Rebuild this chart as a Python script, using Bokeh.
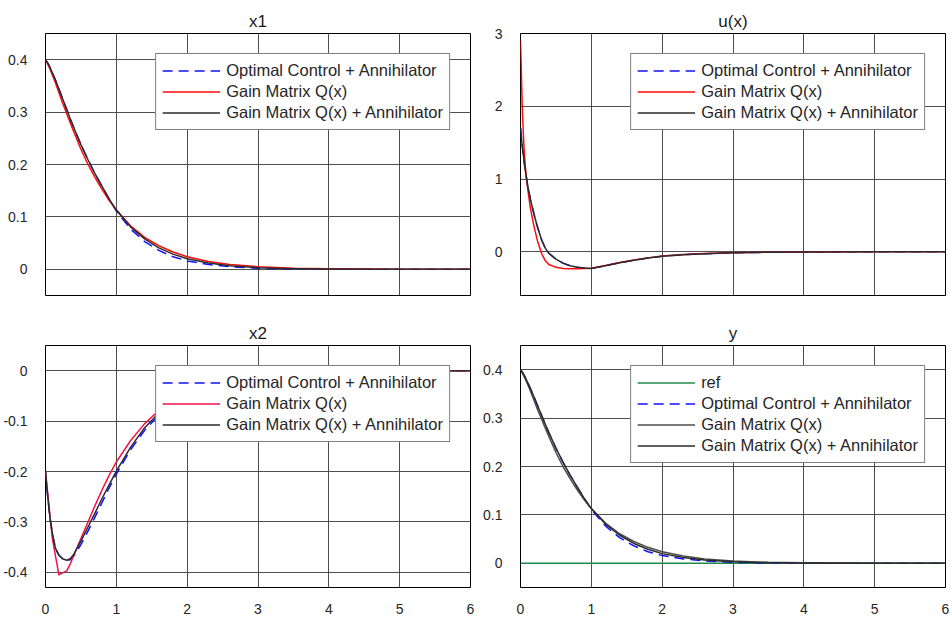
from bokeh.plotting import figure
from bokeh.models import FixedTicker, Legend, LegendItem, ColumnDataSource, Range1d
from bokeh.layouts import column, row
from bokeh.embed import file_html
from bokeh.resources import INLINE

# Simulation time samples (s)
t = [0, 0.01, 0.02, 0.03, 0.05, 0.07, 0.1, 0.14, 0.19, 0.24, 0.3, 0.35, 0.4, 0.5,
     0.6, 0.7, 0.8, 0.9, 1.0, 1.2, 1.4, 1.6, 1.8, 2.0, 2.3, 2.6, 3.0, 3.5, 4.0, 5.0, 6.0]

# State x1
x1_opt = [0.400, 0.398, 0.396, 0.394, 0.389, 0.383, 0.374, 0.361, 0.344, 0.326, 0.305, 0.287,
          0.270, 0.238, 0.209, 0.182, 0.158, 0.134, 0.111, 0.077, 0.053, 0.036, 0.024, 0.016,
          0.009, 0.005, 0.002, 0.0006, 0.0002, 0.0, 0.0]
x1_q = [0.400, 0.398, 0.395, 0.392, 0.386, 0.380, 0.370, 0.356, 0.337, 0.318, 0.297, 0.279,
        0.262, 0.229, 0.200, 0.175, 0.152, 0.131, 0.113, 0.083, 0.061, 0.045, 0.033, 0.024,
        0.015, 0.009, 0.005, 0.002, 0.001, 0.0002, 0.0]
x1_qa = [0.400, 0.398, 0.396, 0.394, 0.389, 0.383, 0.374, 0.361, 0.344, 0.326, 0.305, 0.287,
         0.270, 0.238, 0.209, 0.182, 0.158, 0.134, 0.113, 0.081, 0.058, 0.041, 0.029, 0.020,
         0.012, 0.007, 0.003, 0.001, 0.0004, 0.0, 0.0]

# State x2
x2_opt = [-0.200, -0.216, -0.232, -0.247, -0.275, -0.298, -0.325, -0.352, -0.366, -0.373,
          -0.376, -0.375, -0.367, -0.345, -0.318, -0.290, -0.261, -0.232, -0.205, -0.157,
          -0.118, -0.088, -0.065, -0.048, -0.030, -0.019, -0.010, -0.005, -0.002, -0.0005, 0.0]
x2_q = [-0.200, -0.214, -0.228, -0.242, -0.270, -0.298, -0.335, -0.367, -0.405, -0.401,
        -0.397, -0.383, -0.366, -0.333, -0.300, -0.267, -0.236, -0.207, -0.181, -0.139,
        -0.105, -0.079, -0.059, -0.044, -0.028, -0.017, -0.009, -0.004, -0.002, -0.0004, 0.0]
x2_qa = [-0.200, -0.216, -0.232, -0.247, -0.275, -0.298, -0.325, -0.352, -0.366, -0.373,
         -0.376, -0.373, -0.364, -0.338, -0.310, -0.282, -0.253, -0.226, -0.199, -0.152,
         -0.113, -0.084, -0.062, -0.046, -0.029, -0.018, -0.010, -0.005, -0.002, -0.0005, 0.0]

# Control input u(x)
u_opt = [1.70, 1.60, 1.50, 1.41, 1.25, 1.10, 0.92, 0.72, 0.52, 0.34, 0.16, 0.05, -0.02,
         -0.10, -0.155, -0.192, -0.212, -0.223, -0.228, -0.19, -0.15, -0.115, -0.085, -0.06,
         -0.040, -0.025, -0.013, -0.006, -0.002, 0.0, 0.0]
u_q = [2.90, 2.55, 2.15, 1.85, 1.42, 1.15, 0.88, 0.60, 0.35, 0.15, -0.03, -0.12, -0.175,
       -0.213, -0.228, -0.232, -0.232, -0.230, -0.226, -0.188, -0.148, -0.113, -0.083, -0.058,
       -0.038, -0.024, -0.012, -0.005, -0.002, 0.0, 0.0]
u_qa = [1.70, 1.60, 1.50, 1.41, 1.25, 1.10, 0.92, 0.72, 0.52, 0.34, 0.16, 0.05, -0.02,
        -0.10, -0.155, -0.192, -0.212, -0.223, -0.228, -0.19, -0.15, -0.115, -0.085, -0.06,
        -0.040, -0.025, -0.013, -0.006, -0.002, 0.0, 0.0]

# Output y and its reference
y_ref = [0.0] * len(t)
y_opt = x1_opt
y_q = x1_q
y_qa = x1_qa

x_ticks = [0, 1, 2, 3, 4, 5, 6]
x1_ticks = [0, 0.1, 0.2, 0.3, 0.4]
u_ticks = [0, 1, 2, 3]
x2_ticks = [-0.4, -0.3, -0.2, -0.1, 0]
y_ticks = [0, 0.1, 0.2, 0.3, 0.4]

LBL_OPT = "Optimal Control + Annihilator"
LBL_Q = "Gain Matrix Q(x)"
LBL_QA = "Gain Matrix Q(x) + Annihilator"

FONT = "Liberation Sans"
TEXT_COLOR = "#262626"


def fmt(v):
    return "0" if v == 0 else ("%g" % v)


def panel(title, y_range, y_ticks, series, show_x, width, height, borders):
    bl, br, bt, bb = borders
    p = figure(width=width, height=height, output_backend="svg", toolbar_location=None,
               x_range=Range1d(0, 6), y_range=Range1d(*y_range),
               min_border_left=bl, min_border_right=br, min_border_top=bt, min_border_bottom=bb)
    p.title.text = title
    p.title.align = "center"
    p.title.text_font = FONT
    p.title.text_font_size = "17px"
    p.title.text_font_style = "normal"
    p.title.text_color = "#1a1a1a"
    p.title.standoff = 5

    p.outline_line_color = "#000000"
    p.outline_line_width = 1
    p.background_fill_color = "white"
    p.border_fill_color = "white"

    for ax in (p.xaxis, p.yaxis):
        ax.axis_line_color = None
        ax.major_tick_line_color = None
        ax.minor_tick_line_color = None
        ax.major_label_text_font = FONT
        ax.major_label_text_font_size = "14px"
        ax.major_label_text_color = TEXT_COLOR
    p.xaxis.ticker = FixedTicker(ticks=x_ticks)
    p.yaxis.ticker = FixedTicker(ticks=y_ticks)
    p.xaxis.major_label_overrides = {v: fmt(v) for v in x_ticks}
    p.yaxis.major_label_overrides = {v: fmt(v) for v in y_ticks}
    p.xaxis.major_label_standoff = 10
    p.yaxis.major_label_standoff = 12
    if not show_x:
        p.xaxis.visible = False

    p.xgrid.ticker = FixedTicker(ticks=x_ticks)
    p.ygrid.ticker = FixedTicker(ticks=y_ticks)
    for g in (p.xgrid, p.ygrid):
        g.grid_line_color = "#3c3c3c"
        g.grid_line_width = 1
        g.grid_line_alpha = 0.9

    items = []
    for label, vals, color, dash in series:
        src = ColumnDataSource(dict(t=t, v=vals))
        r = p.line("t", "v", source=src, line_color=color, line_width=1.5,
                   line_dash=dash, line_join="round")
        items.append(LegendItem(label=label, renderers=[r]))

    leg = Legend(items=items, location="top_right", margin=20, padding=6, spacing=0,
                 label_height=21, glyph_height=21, glyph_width=58, label_standoff=6,
                 label_text_font=FONT, label_text_font_size="16.5px",
                 label_text_color=TEXT_COLOR, border_line_color="#000000",
                 border_line_width=1, background_fill_color="white",
                 background_fill_alpha=1.0)
    p.add_layout(leg, "center")
    return p


BLUE = "#1010ff"
RED = "#ff0a0a"
CRIMSON = "#ee1248"
BLACK = "#2b2b2b"
GRAY = "#4d4d4d"
GREEN = "#1f8a4c"

p1 = panel("x1", (-0.05, 0.45), x1_ticks,
           [(LBL_OPT, x1_opt, BLUE, "10 6"), (LBL_Q, x1_q, RED, "solid"),
            (LBL_QA, x1_qa, BLACK, "solid")],
           False, 475, 305, (45, 5, 33, 10))
p2 = panel("u(x)", (-0.6, 3.0), u_ticks,
           [(LBL_OPT, u_opt, BLUE, "10 6"), (LBL_Q, u_q, RED, "solid"),
            (LBL_QA, u_qa, BLACK, "solid")],
           False, 476, 305, (45, 6, 33, 10))
p3 = panel("x2", (-0.43, 0.05), x2_ticks,
           [(LBL_OPT, x2_opt, BLUE, "10 6"), (LBL_Q, x2_q, CRIMSON, "solid"),
            (LBL_QA, x2_qa, BLACK, "solid")],
           True, 475, 312, (45, 5, 40, 30))
p4 = panel("y", (-0.05, 0.45), y_ticks,
           [("ref", y_ref, GREEN, "solid"), (LBL_OPT, y_opt, BLUE, "10 6"),
            (LBL_Q, y_q, GRAY, "solid"), (LBL_QA, y_qa, BLACK, "solid")],
           True, 476, 312, (45, 6, 40, 30))

layout = column(row(p1, p2), row(p3, p4))

with open("out.html", "w") as f:
    f.write(file_html(layout, INLINE))
